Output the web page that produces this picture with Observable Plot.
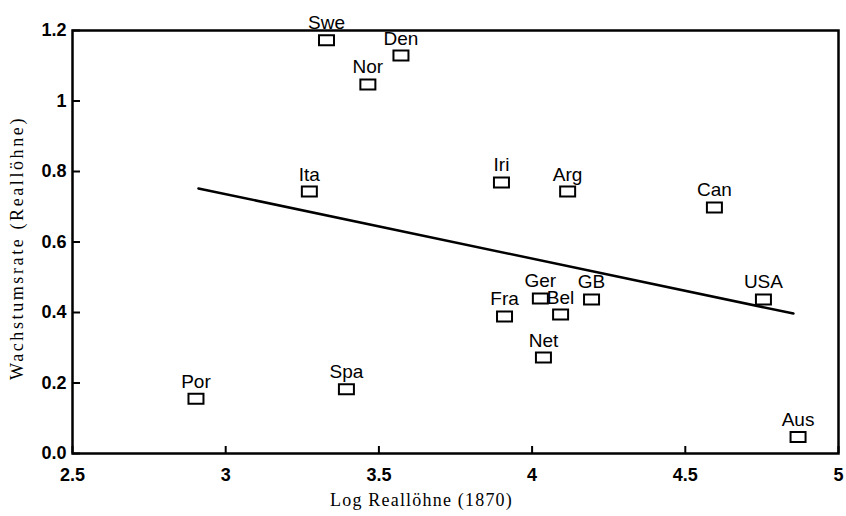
<!DOCTYPE html>
<html>
<head>
<meta charset="utf-8">
<script src="https://cdn.jsdelivr.net/npm/d3@7"></script>
<script src="https://cdn.jsdelivr.net/npm/@observablehq/plot@0.6"></script>
<style>
  html, body { margin: 0; padding: 0; background: #fff; }
  #chart { width: 846px; height: 516px; }
</style>
</head>
<body>
<div id="chart"></div>
<script>
const countries = ["Swe","Den","Nor","Ita","Iri","Arg","Can","Ger","Bel","GB","Fra","Net","USA","Spa","Por","Aus"];
const logWages  = [3.329,3.572,3.464,3.273,3.900,4.116,4.595,4.027,4.093,4.194,3.910,4.037,4.755,3.394,2.903,4.868];
const growth    = [1.172,1.129,1.047,0.743,0.769,0.743,0.698,0.440,0.394,0.437,0.389,0.272,0.437,0.182,0.155,0.047];

const fitX = [2.911, 4.853];
const fitY = [0.752, 0.397];

const xTicks = [2.5, 3, 3.5, 4, 4.5, 5];
const xTickLabels = ["2.5", "3", "3.5", "4", "4.5", "5"];
const yTicks = [0, 0.2, 0.4, 0.6, 0.8, 1, 1.2];
const yTickLabels = ["0.0", "0.2", "0.4", "0.6", "0.8", "1", "1.2"];

const xTitle = "Log Reallöhne (1870)";
const yTitle = "Wachstumsrate (Reallöhne)";

const points = countries.map((c, i) => ({country: c, x: logWages[i], y: growth[i]}));
const fit = fitX.map((x, i) => ({x, y: fitY[i]}));

const rectSymbol = {
  draw(context) {
    context.moveTo(-7.5, -5);
    context.lineTo(7.5, -5);
    context.lineTo(7.5, 5);
    context.lineTo(-7.5, 5);
    context.closePath();
  }
};

const sans = "'Liberation Sans', Arial, Helvetica, sans-serif";
const serif = "'Liberation Serif', 'Times New Roman', serif";

const chart = Plot.plot({
  width: 846,
  height: 516,
  marginLeft: 72,
  marginRight: 8,
  marginTop: 30,
  marginBottom: 63,
  style: {background: "white", color: "black"},
  x: {domain: [2.5, 5]},
  y: {domain: [0, 1.2]},
  marks: [
    Plot.axisX({ticks: xTicks, tickSize: -7, strokeWidth: 2, tickFormat: () => "", label: null}),
    Plot.axisX({ticks: xTicks, tickSize: 0, tickPadding: 15, label: null,
      tickFormat: d => xTickLabels[xTicks.indexOf(d)],
      fontSize: 18, fontWeight: "bold", fontFamily: sans}),
    Plot.axisY({ticks: yTicks, tickSize: -8, strokeWidth: 2, tickFormat: () => "", label: null}),
    Plot.axisY({ticks: yTicks, tickSize: 0, tickPadding: 6, label: null,
      tickFormat: d => yTickLabels[yTicks.indexOf(d)],
      fontSize: 18, fontWeight: "bold", fontFamily: sans}),
    Plot.frame({stroke: "black", strokeWidth: 2.5}),
    Plot.line(fit, {x: "x", y: "y", stroke: "black", strokeWidth: 2.5}),
    Plot.dot(points, {x: "x", y: "y", symbol: rectSymbol, stroke: "black", strokeWidth: 2, fill: "none"}),
    Plot.text(points, {x: "x", y: "y", text: "country", lineAnchor: "bottom", dy: -11,
      fontSize: 19, fontFamily: sans, fill: "black"}),
    Plot.text([xTitle], {text: d => d, frameAnchor: "bottom", textAnchor: "middle", dx: -34, dy: 52,
      fontSize: 18, fontFamily: serif, fill: "black"}),
    Plot.text([yTitle], {text: d => d, frameAnchor: "left", textAnchor: "middle", lineAnchor: "middle",
      rotate: -90, dx: -55, dy: 6, fontSize: 18, fontFamily: serif, fill: "black"})
  ]
});

d3.select(chart).selectAll("text").each(function() {
  const t = this.textContent;
  if (t === xTitle) d3.select(this).style("letter-spacing", "1.2px");
  if (t === yTitle) d3.select(this).style("letter-spacing", "2.6px");
});

document.getElementById("chart").appendChild(chart);
</script>
</body>
</html>
